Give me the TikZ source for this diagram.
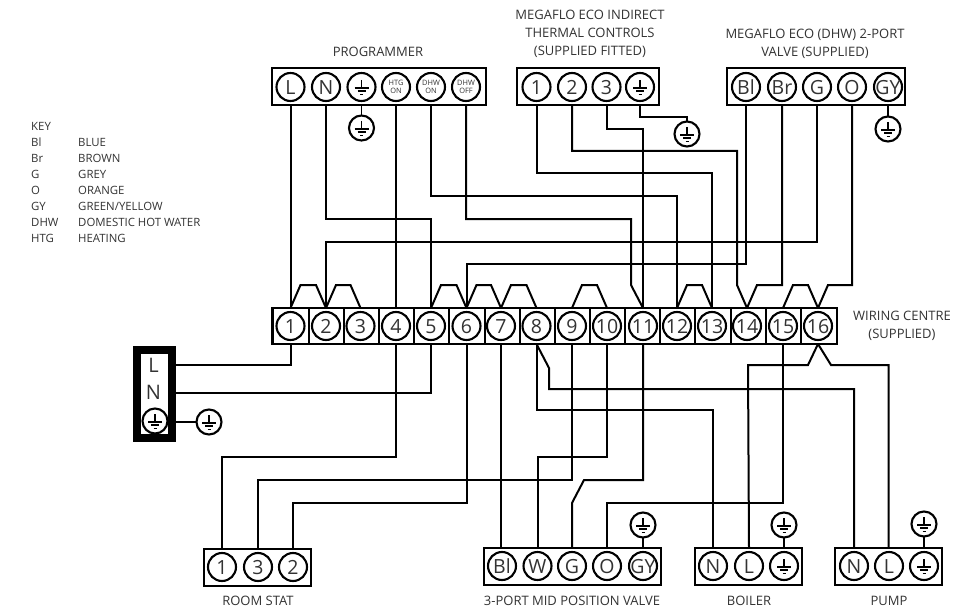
\documentclass[tikz,border=0pt]{standalone}
\usepackage{fontspec}
\setmainfont{Open Sans}
\usetikzlibrary{calc}
\definecolor{txt}{HTML}{333333}
\newcommand\tl[1]{\smash{\makebox[0pt][c]{\raisebox{-0.36em}{#1}}}}
\newcommand\tll[2]{\smash{\makebox[0pt][c]{\raisebox{-0.5\height}{\fontsize{7.4}{9}\selectfont\shortstack[c]{#1\\#2}}}}}
\newcommand\earthsym[1]{\draw[glyph,shift={(#1.center)}] (0,-7)--(0,1) (-7,1)--(7,1) (-4,4.3)--(4,4.3) (-1.5,7.5)--(1.5,7.5);}
\newcommand\bump[2]{\draw[wire] (#1|-W.north) -- ++(10,-23) -- ($(#2|-W.north)+(-10,-23)$) -- (#2|-W.north);}
\tikzset{
  tbox/.style={draw=black,line width=2.1pt,rectangle,fill=white,inner sep=0pt,outer sep=0pt},
  term/.style={draw=black,line width=2.1pt,circle,minimum size=28pt,inner sep=0pt,outer sep=0pt,text=txt,font=\fontsize{19.5}{20}\selectfont},
  earthc/.style={draw=black,line width=2.1pt,circle,minimum size=25pt,inner sep=0pt,outer sep=0pt},
  glyph/.style={line width=1.8pt,black},
  wire/.style={line width=2pt,black,line join=miter},
  ewire/.style={line width=1.7pt,black,line join=miter},
  captxt/.style={text=txt,align=center,inner sep=0pt,font=\fontsize{13}{18}\selectfont},
  keyt/.style={text=txt,anchor=west,inner sep=0pt,font=\fontsize{11.4}{12}\selectfont},
}
\begin{document}
\begin{tikzpicture}[x=1pt,y=-1pt]
\fill[white] (0,0) rectangle (956,607);
\clip (0,0) rectangle (956,607);
% ---- boxes
\node[tbox,minimum width=214pt,minimum height=37pt] (P) at (379,86.5) {};
\node[tbox,minimum width=142pt,minimum height=37pt] (C) at (588,86.5) {};
\node[tbox,minimum width=178pt,minimum height=37pt] (V) at (816,86.5) {};
\node[tbox,minimum width=564.5pt,minimum height=36pt] (W) at (554.7,326) {};
\node[tbox,minimum width=107pt,minimum height=37pt] (R) at (257.5,567.5) {};
\node[tbox,minimum width=177pt,minimum height=37pt] (T) at (572.5,566.5) {};
\node[tbox,minimum width=107pt,minimum height=37pt] (B) at (748.5,566.5) {};
\node[tbox,minimum width=107pt,minimum height=37pt] (U) at (888.5,566.5) {};
\node[draw=black,line width=8pt,fill=white,rectangle,minimum width=34.5pt,minimum height=88pt,inner sep=0pt,outer sep=0pt] (M) at (154.7,394) {};
% dividers
\foreach \x in {309,344,379,414,449,485,520,555,590,625,660,695,731,766,801}
  \draw[black,line width=1.8pt] (\x,308) -- (\x,344);
% ---- terminals
\node[term] (p1) at (290.5,87) {\tl{L}};
\node[term] (p2) at (326,87) {\tl{N}};
\node[term] (p3) at (361.5,87) {}; \earthsym{p3}
\node[term] (p4) at (396,87) {\tll{HTG}{ON}};
\node[term] (p5) at (431,87) {\tll{DHW}{ON}};
\node[term] (p6) at (466,87) {\tll{DHW}{OFF}};
\node[term] (c1) at (536.5,87) {\tl{1}};
\node[term] (c2) at (572,87) {\tl{2}};
\node[term] (c3) at (606.5,87) {\tl{3}};
\node[term] (c4) at (640,87) {}; \earthsym{c4}
\node[term] (v1) at (746,87) {\tl{Bl}};
\node[term] (v2) at (782,87) {\tl{Br}};
\node[term] (v3) at (817,87) {\tl{G}};
\node[term] (v4) at (852,87) {\tl{O}};
\node[term] (v5) at (888,87) {\tl{GY}};
\foreach \n/\x in {1/290.5,2/326,3/360.5,4/396,5/431,6/466.5,7/501,8/536.5,9/572,10/607,11/643,12/677,13/712,14/747,15/783,16/818}
  \node[term] (w\n) at (\x,326) {\tl{\n}};
\node[term] (r1) at (222,567) {\tl{1}};
\node[term] (r3) at (258,567) {\tl{3}};
\node[term] (r2) at (293,567) {\tl{2}};
\node[term] (t1) at (502,566) {\tl{Bl}};
\node[term] (t2) at (537.5,566) {\tl{W}};
\node[term] (t3) at (572,566) {\tl{G}};
\node[term] (t4) at (607,566) {\tl{O}};
\node[term] (t5) at (643,566) {\tl{GY}};
\node[term] (b1) at (713,566) {\tl{N}};
\node[term] (b2) at (749,566) {\tl{L}};
\node[term] (b3) at (784,566) {}; \earthsym{b3}
\node[term] (u1) at (854,566) {\tl{N}};
\node[term] (u2) at (889,566) {\tl{L}};
\node[term] (u3) at (924,566) {}; \earthsym{u3}
\node[text=txt,inner sep=0pt,font=\fontsize{20}{20}\selectfont] (mL) at (153.5,365) {L};
\node[text=txt,inner sep=0pt,font=\fontsize{20}{20}\selectfont] (mN) at (153.5,392) {N};
\node[earthc] (mE) at (155,421) {}; \earthsym{mE}
% ---- earth symbols
\node[earthc] (e1) at (361.5,128) {}; \earthsym{e1}
\node[earthc] (e2) at (687,134) {}; \earthsym{e2}
\node[earthc] (e3) at (888,129) {}; \earthsym{e3}
\node[earthc] (e4) at (209,422) {}; \earthsym{e4}
\node[earthc] (e5) at (643,525) {}; \earthsym{e5}
\node[earthc] (e6) at (784,525) {}; \earthsym{e6}
\node[earthc] (e7) at (924,524) {}; \earthsym{e7}
% ---- wires top
\draw[wire] (p1|-P.south) -- (p1|-W.north);
\draw[wire] (p2|-P.south) -- (p2|-0,219) -- (w5|-0,219) -- (w5|-W.north);
\draw[ewire] (p3|-P.south) -- (e1.north);
\draw[wire] (p4|-P.south) -- (p4|-W.north);
\draw[wire] (p5|-P.south) -- (p5|-0,196) -- (w12|-0,196) -- (w12|-W.north);
\draw[wire] (p6|-P.south) -- (p6|-0,219) -- (631,219) -- (631,285) -- (w11|-W.north);
\draw[wire] (c1|-C.south) -- (c1|-0,173) -- (w13|-0,173) -- (w13|-W.north);
\draw[wire] (c2|-C.south) -- (c2|-0,151) -- (737,151) -- (737,285) -- (w14|-W.north);
\draw[wire] (c3|-C.south) -- (c3|-0,129) -- (w11|-0,129) -- (w11|-W.north);
\draw[ewire] (c4|-C.south) -- (c4|-0,117) -- (e2|-0,117) -- (e2.north);
\draw[wire] (v1|-V.south) -- (v1|-0,264) -- (w6|-0,264) -- (w6|-W.north);
\draw[wire] (v2|-V.south) -- (v2|-0,285) -- (757,285) -- (w14|-W.north);
\draw[wire] (v3|-V.south) -- (v3|-0,242) -- (w2|-0,242) -- (w2|-W.north);
\draw[wire] (v4|-V.south) -- (v4|-0,285) -- (828,285) -- (w16|-W.north);
\draw[ewire] (v5|-V.south) -- (e3.north);
\bump{w1}{w2}
\bump{w2}{w3}
\bump{w5}{w6}
\bump{w6}{w7}
\bump{w7}{w8}
\bump{w9}{w10}
\bump{w12}{w13}
\bump{w15}{w16}
% ---- wires bottom
\draw[wire] (w1|-W.south) -- (w1|-0,365) -- (M.east|-0,365);
\draw[wire] (w5|-W.south) -- (w5|-0,392.5) -- (M.east|-0,392.5);
\draw[ewire] (M.east|-e4) -- (e4.west);
\draw[wire] (w4|-W.south) -- (w4|-0,457) -- (r1|-0,457) -- (r1|-R.north);
\draw[wire] (w9|-W.south) -- (w9|-0,480) -- (r3|-0,480) -- (r3|-R.north);
\draw[wire] (w6|-W.south) -- (w6|-0,503) -- (r2|-0,503) -- (r2|-R.north);
\draw[wire] (w7|-W.south) -- (w7|-T.north);
\draw[wire] (w10|-W.south) -- (w10|-0,457) -- (t2|-0,457) -- (t2|-T.north);
\draw[wire] (w11|-W.south) -- (w11|-0,480) -- (584,480) -- (572,503) -- (t3|-T.north);
\draw[wire] (w15|-W.south) -- (w15|-0,503) -- (t4|-0,503) -- (t4|-T.north);
\draw[ewire] (t5|-T.north) -- (e5.south);
\draw[wire] (w8|-W.south) -- (w8|-0,410) -- (b1|-0,410) -- (b1|-B.north);
\draw[wire] (w8|-W.south) -- (549,368) -- (549,389) -- (u1|-0,389) -- (u1|-U.north);
\draw[wire] (w16|-W.south) -- (808,365) -- (748,365) -- (b2|-B.north);
\draw[wire] (w16|-W.south) -- (831,365) -- (888.5,365) -- (888.5,548);
\draw[ewire] (b3|-B.north) -- (e6.south);
\draw[ewire] (u3|-U.north) -- (e7.south);
% ---- captions
\node[captxt] (lp) at (378,52) {PROGRAMMER};
\node[captxt] (lc) at (590,34) {MEGAFLO ECO INDIRECT\\THERMAL CONTROLS\\(SUPPLIED FITTED)};
\node[captxt] (lv) at (815,44) {MEGAFLO ECO (DHW) 2-PORT\\VALVE (SUPPLIED)};
\node[captxt] (lw) at (902,326) {WIRING CENTRE\\(SUPPLIED)};
\node[captxt,anchor=base] (lr) at (258,605.5) {ROOM STAT};
\node[captxt,anchor=base] (lt) at (572,605.5) {3-PORT MID POSITION VALVE};
\node[captxt,anchor=base] (lb) at (749,605.5) {BOILER};
\node[captxt,anchor=base] (lu) at (889,605.5) {PUMP};
% ---- key
\foreach \i/\a/\b in {0/KEY/,1/Bl/BLUE,2/Br/BROWN,3/G/GREY,4/O/ORANGE,5/GY/GREEN\slash YELLOW,6/DHW/DOMESTIC HOT WATER,7/HTG/HEATING}{
  \node[keyt] (ka\i) at (31,{126+\i*16}) {\a};
  \node[keyt] (kb\i) at (78,{126+\i*16}) {\b};
}
\end{tikzpicture}
\end{document}
